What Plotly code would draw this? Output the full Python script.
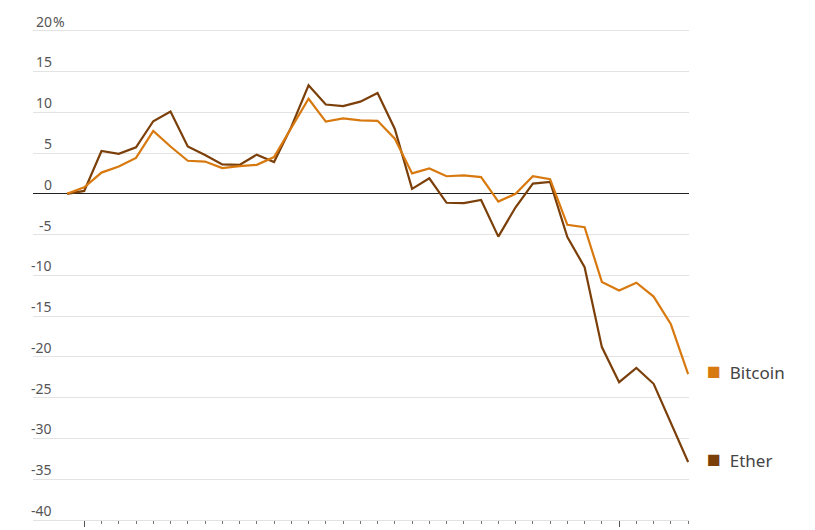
import plotly.graph_objects as go

# ---- data ----
days = list(range(37))
bitcoin = [0, 0.8, 2.6, 3.35, 4.4, 7.7, 5.8, 4.05, 3.95, 3.15, 3.4, 3.55, 4.5, 8.0,
           11.65, 8.85, 9.25, 9.0, 8.95, 6.75, 2.5, 3.1, 2.15, 2.25, 2.05, -0.95,
           0.0, 2.15, 1.8, -3.8, -4.1, -10.8, -11.85, -10.9, -12.6, -16.0, -22.1]
ether = [0, 0.35, 5.25, 4.9, 5.7, 8.9, 10.1, 5.8, 4.75, 3.6, 3.55, 4.8, 3.9, 8.2,
         13.3, 10.95, 10.75, 11.3, 12.35, 7.95, 0.6, 1.9, -1.1, -1.15, -0.75, -5.25,
         -1.65, 1.25, 1.45, -5.3, -9.0, -18.8, -23.1, -21.35, -23.3, -28.2, -32.9]
y_ticks = [20, 15, 10, 5, 0, -5, -10, -15, -20, -25, -30, -35, -40]
y_tick_labels = ["20", "15", "10", "5", "0", "-5", "-10", "-15", "-20", "-25", "-30", "-35", "-40"]
major_ticks = [1, 32]
minor_ticks = list(range(1, 37))

BTC = "#d8790f"
ETH = "#7b3f0a"

fig = go.Figure()
fig.add_trace(go.Scatter(x=days, y=ether, mode="lines", name="Ether",
                         line=dict(color=ETH, width=2.2), showlegend=False, hoverinfo="skip"))
fig.add_trace(go.Scatter(x=days, y=bitcoin, mode="lines", name="Bitcoin",
                         line=dict(color=BTC, width=2.2), showlegend=False, hoverinfo="skip"))

# page body has an 8px margin, so offsets are compensated
OFF = 8
W, H = 815, 530
top_px, bottom_px = 26, 521.7          # page pixels of plot area
left_px, right_px = 33, 689
ml = left_px - OFF
mr = W + OFF - right_px
mt = top_px - OFF
mb = H + OFF - bottom_px
pw = W - ml - mr
unit_px = (521.7 - 30.7) / 60.0
y_top = 20 + (30.7 - top_px) / unit_px

def px_to_paper(px):
    return (px - OFF - ml) / pw

annotations = []
for v, lab in zip(y_ticks, y_tick_labels):
    annotations.append(dict(x=px_to_paper(54), xref="paper", y=v, yref="y",
                            text=lab, showarrow=False, xanchor="right", yanchor="bottom",
                            yshift=-2, font=dict(family="Noto Sans", size=14, color="#555")))
annotations.append(dict(x=px_to_paper(54), xref="paper", y=y_ticks[0], yref="y",
                        text="%", showarrow=False, xanchor="left", yanchor="bottom",
                        yshift=-2, xshift=-3, font=dict(family="Noto Sans", size=14, color="#555")))

for name, series, col in [("Bitcoin", bitcoin, BTC), ("Ether", ether, ETH)]:
    annotations.append(dict(x=px_to_paper(705), xref="paper", y=series[-1], yref="y",
                            text=f'<span style="color:{col};font-size:23px">■</span>&nbsp; {name}',
                            showarrow=False, xanchor="left", yanchor="middle", yshift=4,
                            font=dict(family="Noto Sans", size=17, color="#444")))

fig.update_layout(
    width=W, height=H,
    margin=dict(l=ml, r=mr, t=mt, b=mb),
    paper_bgcolor="white", plot_bgcolor="white",
    annotations=annotations,
    xaxis=dict(range=[-1.97, 36.05], showgrid=False, zeroline=False,
               showticklabels=False, showline=True, linecolor="#e3e3e3", linewidth=1,
               tickmode="array", tickvals=major_ticks, ticks="outside",
               ticklen=6, tickwidth=1, tickcolor="#555",
               minor=dict(tickmode="array", tickvals=minor_ticks, ticks="outside",
                          ticklen=3, tickwidth=1, tickcolor="#777")),
    yaxis=dict(range=[-40, y_top], tickmode="array", tickvals=y_ticks,
               showticklabels=False, showgrid=True, gridcolor="#e3e3e3", gridwidth=1,
               zeroline=True, zerolinecolor="#222", zerolinewidth=1, showline=False),
)

fig.write_html("out.html")
